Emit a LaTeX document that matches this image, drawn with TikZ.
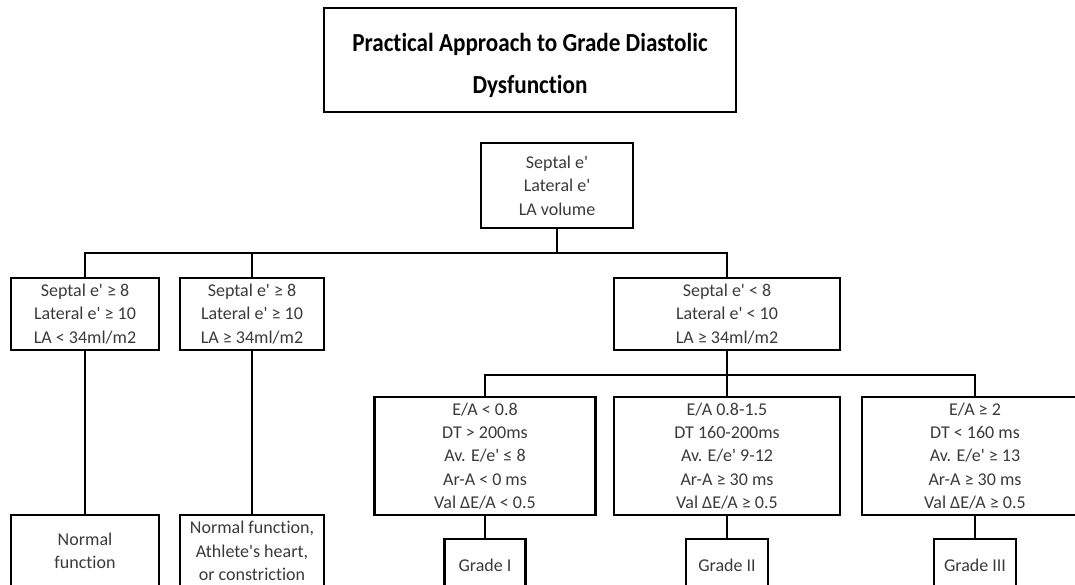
\documentclass[tikz,border=0pt]{standalone}
\usepackage{fontspec}
\setmainfont{Carlito}[Ligatures={TeXOff,NoCommon}]
\newfontfamily\titlefont{Carlito}[Ligatures={TeXOff,NoCommon}, FakeStretch=0.89]
\usepackage{xcolor}
\usetikzlibrary{positioning}
\definecolor{textGrey}{HTML}{3A3A3A}
\tikzstyle{titlebox} = [rectangle, draw=black, line width=2.2pt, minimum width=412pt, minimum height=104pt, align=center, font=\titlefont\fontsize{26}{42}\selectfont\bfseries]
\tikzstyle{critbox} = [rectangle, draw=black, line width=2.4pt, align=center, inner sep=0pt, text=textGrey, font=\fontsize{18}{23.4}\selectfont]
\tikzstyle{link} = [line width=2.4pt]

\begin{document}
\begin{tikzpicture}[x=1pt, y=-1pt]
\useasboundingbox (0,0) rectangle (1075,584);

\node (title) [titlebox] at (530,60) {\rule{0pt}{30pt}Practical Approach to Grade Diastolic\\Dysfunction};

% first split
\node (top) [critbox, minimum width=152pt, minimum height=85pt] at (557,185.5) {Septal e'\\Lateral e'\\LA volume};
\node (normLA) [critbox, minimum width=148pt, minimum height=72pt] at (85,314) {Septal e' ≥ 8\\Lateral e' ≥ 10\\LA < 34ml/m2};
\node (highLA) [critbox, minimum width=144pt, minimum height=72pt] at (252,314) {Septal e' ≥ 8\\Lateral e' ≥ 10\\LA ≥ 34ml/m2};
\node (lowE) [critbox, minimum width=226pt, minimum height=72pt] at (727,314) {Septal e' < 8\\Lateral e' < 10\\LA ≥ 34ml/m2};

% pattern boxes
\node (patI) [critbox, minimum width=221pt, minimum height=118pt] at (485,456) {E/A < 0.8\\DT > 200ms\\Av. E/e' ≤ 8\\Ar-A < 0 ms\\Val ΔE/A < 0.5};
\node (patII) [critbox, minimum width=226pt, minimum height=118pt] at (727,456) {E/A 0.8-1.5\\DT 160-200ms\\Av. E/e' 9-12\\Ar-A ≥ 30 ms\\Val ΔE/A ≥ 0.5};
\node (patIII) [critbox, minimum width=226pt, minimum height=118pt] at (975,456) {E/A ≥ 2\\DT < 160 ms\\Av. E/e' ≥ 13\\Ar-A ≥ 30 ms\\Val ΔE/A ≥ 0.5};

% outcomes
\node (normal) [critbox, minimum width=148pt, minimum height=72pt] at (85,551) {Normal\\function};
\node (athlete) [critbox, minimum width=144pt, minimum height=72pt] at (252,551) {Normal function,\\Athlete's heart,\\or constriction};
\node (gradeI) [critbox, minimum width=81pt, minimum height=52pt] at (485,565) {Grade I};
\node (gradeII) [critbox, minimum width=82pt, minimum height=52pt] at (727,565) {Grade II};
\node (gradeIII) [critbox, minimum width=82pt, minimum height=52pt] at (975,565) {Grade III};

\coordinate (fork1) at (557,253);
\coordinate (fork2) at (727,375);

\draw [link] (top) -- (fork1);
\draw [link] (fork1) -| (normLA);
\draw [link] (fork1) -| (highLA);
\draw [link] (fork1) -| (lowE);
\draw [link] (lowE) -- (fork2);
\draw [link] (fork2) -| (patI);
\draw [link] (fork2) -- (patII);
\draw [link] (fork2) -| (patIII);
\draw [link] (normLA) -- (normal);
\draw [link] (highLA) -- (athlete);
\draw [link] (patI) -- (gradeI);
\draw [link] (patII) -- (gradeII);
\draw [link] (patIII) -- (gradeIII);

\end{tikzpicture}
\end{document}
